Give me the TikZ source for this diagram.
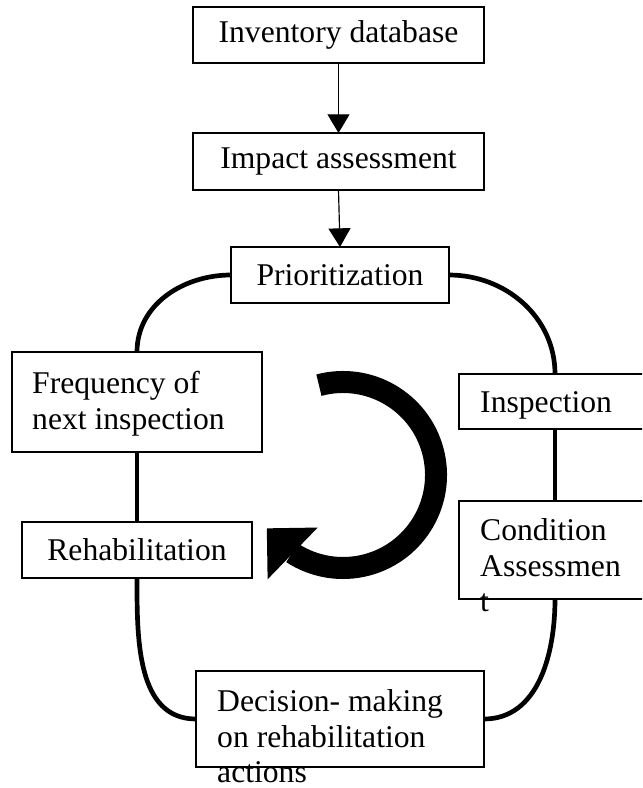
\documentclass[tikz,border=0pt]{standalone}
\usepackage{fontspec}
\setmainfont{Liberation Serif}
\usetikzlibrary{arrows.meta,bending}
\begin{document}
\begin{tikzpicture}[x=0.03cm,y=-0.03cm,
		every node/.style={font=\fontsize{27}{30.6}\selectfont},
		stagebox/.style={draw, line width=1pt, inner sep=0pt, outer sep=0pt},
		stagetext/.style={inner sep=0pt, align=left},
		flowarrow/.style={line width=1pt, -{Triangle[width=0.66cm,length=0.56cm]}},
		loopline/.style={line width=4pt},
		cyclearrow/.style={line width=0.66cm, -{Triangle[width=2.16cm,length=1.08cm,line width=0pt]}}
		]
	\def\ringradius{93}
	\useasboundingbox (0,0) rectangle (642,788);
	\clip (0,0) rectangle (642,788);
	\node[stagebox, minimum width=8.73cm, minimum height=1.68cm] (inv) at (338.5,35) {Inventory database};
	\node[stagebox, minimum width=8.73cm, minimum height=1.71cm] (imp) at (338.5,161.5) {Impact assessment};
	\node[stagebox, minimum width=6.54cm, minimum height=1.68cm] (pri) at (340,275) {Prioritization};
	\node[stagebox, minimum width=7.5cm, minimum height=3cm] (freq) at (137,402) {};
	\node[stagetext, anchor=north west] (freqtext) at (32,371) {Frequency of\\next inspection};
	\node[stagebox, minimum width=7.23cm, minimum height=1.65cm] (insp) at (579.5,401.5) {};
	\node[stagetext, anchor=west] (insptext) at (480,405) {Inspection};
	\node[stagebox, minimum width=7.23cm, minimum height=2.94cm] (cond) at (579.5,550) {};
	\node[stagetext, anchor=north west] (condtext) at (480,518) {Condition\\Assessmen\\t};
	\node[stagebox, minimum width=6.9cm, minimum height=1.68cm] (rehab) at (137,550) {Rehabilitation};
	\node[stagebox, minimum width=8.64cm, minimum height=2.88cm] (dec) at (340,719) {};
	\node[stagetext, anchor=north west] (dectext) at (217,689) {Decision- making\\on rehabilitation\\actions};
	\coordinate (rx) at (555,0);
	\coordinate (hub) at (343,475);
	% top chain
	\draw[flowarrow] (inv.south) -- (imp.north);
	\draw[flowarrow] (imp.south) -- (pri.north);
	% the loop
	\draw[loopline] (pri.west) to[out=180,in=90] (freq.north);
	\draw[loopline] (freq.south) -- (rehab.north);
	\draw[loopline] (rehab.south) to[out=-90,in=180] (dec.west);
	\draw[loopline] (pri.east) to[out=0,in=90] (insp.north -| rx);
	\draw[loopline] (insp.south -| rx) -- (cond.north -| rx);
	\draw[loopline] (cond.south -| rx) to[out=-90,in=0] (dec.east);
	% cycle arrow
	\draw[cyclearrow] (hub) ++(-105:\ringradius) arc[start angle=-105, end angle=145, radius=\ringradius];
\end{tikzpicture}
\end{document}
